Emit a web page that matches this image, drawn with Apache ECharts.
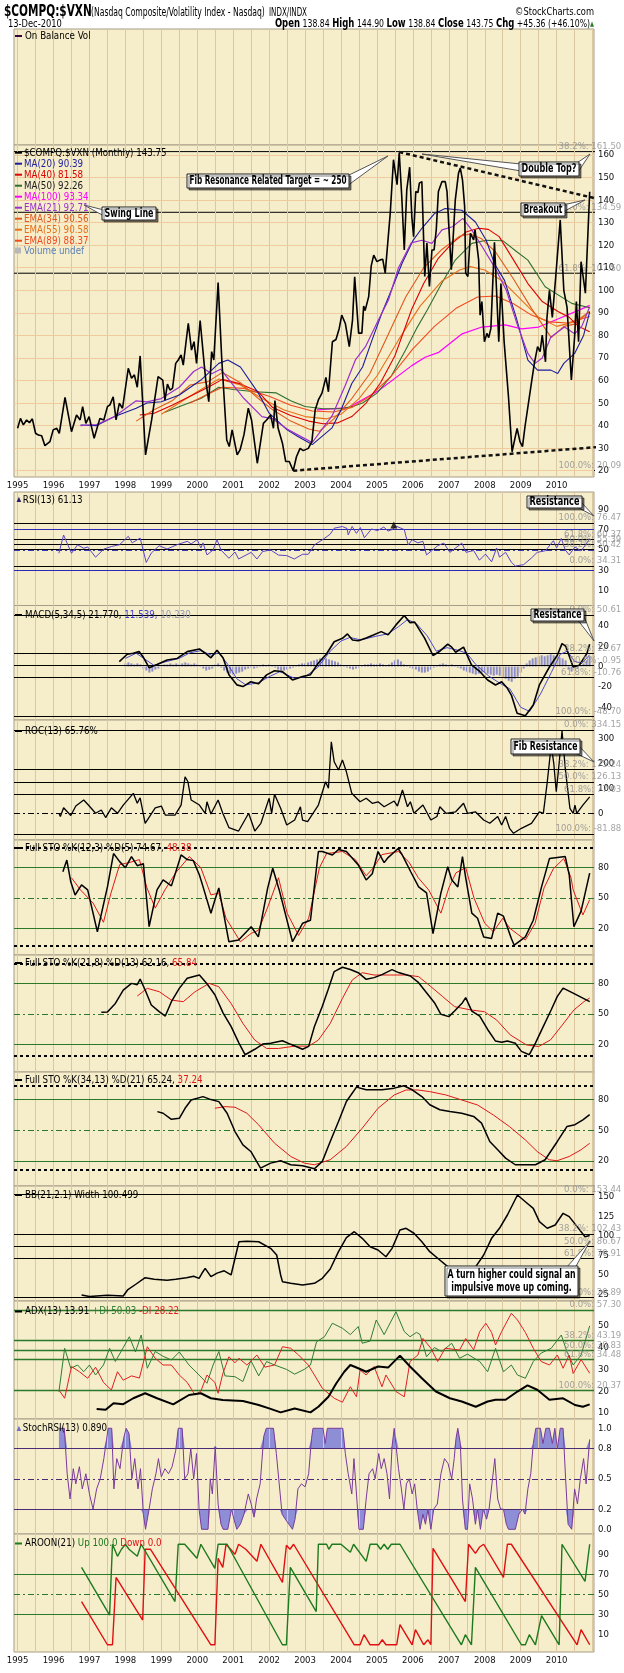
<!DOCTYPE html>
<html><head><meta charset="utf-8"><title>$COMPQ:$VXN</title>
<script src="https://cdn.jsdelivr.net/npm/echarts@6/dist/echarts.min.js"></script>
<style>html,body{margin:0;padding:0;background:#fff;}#chart{width:624px;height:1673px;}</style>
</head><body><div id="chart"></div>
<script>
// ================= DATA =================
const years = [1995,1996,1997,1998,1999,2000,2001,2002,2003,2004,2005,2006,2007,2008,2009,2010];
const mainTicks = [20,30,40,50,60,70,80,90,100,110,120,130,140,150,160];
const rsiTicks = [10,30,50,70,90];
const macdTicks = [-40,-20,0,20,40];
const rocTicks = [0,100,200,300];
const stoTicks = [20,50,80];
const bbTicks = [25,50,75,100,125,150];
const adxTicks = [10,20,30,40,50];
const srsiTicks = [0,0.2,0.5,0.8,1.0];
const aroonTicks = [10,30,50,70,90];

const price = [[1995.00,38.8],[1995.08,43.2],[1995.16,40.3],[1995.25,42.5],[1995.33,41.3],[1995.41,43],[1995.50,36.6],[1995.58,35.8],[1995.67,35.5],[1995.76,31.1],[1995.90,32.9],[1995.99,38.1],[1996.09,38.8],[1996.16,36.6],[1996.32,52.5],[1996.50,37.3],[1996.64,44.7],[1996.74,42.5],[1996.81,48.4],[1996.90,41],[1996.99,44],[1997.13,34.4],[1997.29,43.2],[1997.40,42.5],[1997.50,48.4],[1997.57,49.2],[1997.66,52.8],[1997.74,42.5],[1997.83,49.9],[1997.92,47.7],[1998.08,65.4],[1998.17,61],[1998.25,62.5],[1998.33,57],[1998.41,70.9],[1998.56,27],[1998.73,42.5],[1998.91,61.7],[1999.04,60.2],[1999.10,51.3],[1999.17,58.4],[1999.24,55.8],[1999.31,56.5],[1999.40,67.6],[1999.47,69.1],[1999.55,71.3],[1999.61,66.8],[1999.75,85.4],[1999.84,73.5],[1999.91,77.2],[1999.98,67.6],[2000.08,86.6],[2000.19,67.6],[2000.24,59.5],[2000.32,50.6],[2000.40,72.8],[2000.46,69.1],[2000.58,103.4],[2000.68,69.8],[2000.82,33.6],[2000.89,30.7],[2000.97,38.1],[2001.11,27],[2001.19,29.2],[2001.30,36],[2001.42,47.7],[2001.51,42.5],[2001.67,23.3],[2001.84,41],[2001.93,42.5],[2002.04,44.7],[2002.12,38.8],[2002.16,51.1],[2002.25,38.8],[2002.37,32.2],[2002.46,24.1],[2002.56,24.1],[2002.67,20],[2002.76,26.2],[2002.86,29.9],[2002.95,28.9],[2003.09,29.9],[2003.19,33],[2003.28,46.9],[2003.37,51.4],[2003.47,54.4],[2003.58,61.4],[2003.65,55],[2003.76,77.2],[2003.86,78.2],[2003.95,83.1],[2004.02,89],[2004.12,85.3],[2004.23,75],[2004.32,86.8],[2004.38,106],[2004.49,81],[2004.58,81],[2004.63,93],[2004.67,91],[2004.77,97.2],[2004.84,110.8],[2004.91,115.6],[2005.00,112.7],[2005.09,113.5],[2005.16,113.8],[2005.23,107.6],[2005.37,134.2],[2005.46,157.9],[2005.56,146.8],[2005.62,161.1],[2005.69,141.6],[2005.76,117.9],[2005.83,144.5],[2005.91,154.6],[2005.97,132.7],[2006.02,123.8],[2006.08,143.8],[2006.14,143.3],[2006.18,147.5],[2006.25,148.2],[2006.33,106.1],[2006.39,120.9],[2006.46,101.7],[2006.53,117.9],[2006.59,117.9],[2006.65,126.8],[2006.71,143.8],[2006.81,148.2],[2006.90,148.2],[2006.95,143.8],[2006.99,131.2],[2007.07,109.1],[2007.18,140.1],[2007.27,152],[2007.32,154.2],[2007.38,149],[2007.44,137.2],[2007.47,107.6],[2007.53,106.1],[2007.60,125.3],[2007.64,126.1],[2007.69,122.4],[2007.73,126.8],[2007.83,113.5],[2007.87,89],[2007.92,95],[2007.99,77.2],[2008.06,80.9],[2008.11,79],[2008.17,83],[2008.27,121.3],[2008.39,77.2],[2008.45,103],[2008.54,77],[2008.66,52.8],[2008.76,28.4],[2008.90,38.8],[2008.98,32.9],[2009.05,30.7],[2009.12,39.6],[2009.31,60.2],[2009.38,67.6],[2009.47,75],[2009.54,72.8],[2009.60,80.1],[2009.69,68.3],[2009.73,87.6],[2009.80,100],[2009.88,88],[2009.97,105],[2010.10,131.2],[2010.20,100],[2010.29,92.4],[2010.41,60.2],[2010.50,79.3],[2010.55,95],[2010.61,77.2],[2010.68,112.7],[2010.80,98.7],[2010.92,143.7]];

const ma20 = [[1996.75,40.3],[1997.2,40],[1997.7,44],[1998.3,47.7],[1998.6,50],[1999.0,50.6],[1999.5,53.6],[2000.1,60.2],[2000.6,67.6],[2000.85,69.1],[2001.2,66],[2001.7,54.4],[2002.0,45.5],[2002.5,38.1],[2002.8,35.2],[2003.2,31.6],[2003.75,39],[2004.0,46.9],[2004.3,58.7],[2004.6,66],[2004.86,77.8],[2005.13,89.6],[2005.4,100],[2005.7,112],[2006.0,122],[2006.25,127.5],[2006.6,134],[2006.9,136.3],[2007.36,135.5],[2007.74,130.3],[2008.04,122.2],[2008.27,111.8],[2008.55,104.4],[2008.87,88.2],[2009.2,69],[2009.47,64.6],[2009.84,64.6],[2010.03,63.1],[2010.2,67.6],[2010.5,72],[2010.75,80],[2010.92,90.4]];
const ma40 = [[1998.4,44.7],[1998.8,45.5],[1999.3,49],[1999.8,53],[2000.3,57],[2000.7,60.5],[2001.2,58.5],[2001.7,55],[2002.1,48],[2002.6,44.5],[2003.1,42],[2003.5,40.8],[2003.9,41.2],[2004.3,44],[2004.7,50],[2005.1,59],[2005.5,71],[2005.97,91.7],[2006.3,103],[2006.7,114],[2007.1,121],[2007.5,126],[2007.83,127.5],[2008.1,127],[2008.4,123.8],[2008.8,113.5],[2009.2,103],[2009.6,95],[2010.05,90.5],[2010.35,88],[2010.61,84],[2010.92,81.6]];
const ma50 = [[1999.1,45.9],[1999.6,49],[2000.1,52],[2000.6,57],[2001.0,56],[2001.6,55],[2002.2,54.5],[2002.6,51],[2003.0,48.5],[2003.5,47.5],[2004.0,47.5],[2004.3,48.4],[2004.6,50],[2005.0,54.4],[2005.4,62],[2005.8,73.6],[2006.1,83],[2006.4,91.3],[2006.8,103],[2007.18,113.4],[2007.64,120.8],[2008.04,122.2],[2008.5,122],[2008.9,117],[2009.2,113.4],[2009.68,101.6],[2010.42,94.2],[2010.92,92.3]];
const ma100 = [[2003.33,47],[2004.21,48],[2005.04,55.5],[2005.97,66.6],[2006.34,70.3],[2006.72,72.5],[2007.37,80.7],[2007.92,83.7],[2008.57,84.7],[2009.03,82.9],[2009.5,83.7],[2010.05,87.4],[2010.61,91.1],[2010.92,93.3]];
const ema21 = [[1996.75,40],[1997.2,40.5],[1997.7,44],[1998.3,51],[1998.6,50.5],[1999.0,52],[1999.5,57],[1999.9,64],[2000.12,66],[2000.4,63],[2000.65,65],[2000.95,59],[2001.3,52],[2001.8,44],[2002.1,43],[2002.5,38.5],[2002.9,35],[2003.2,32.5],[2003.5,39],[2003.75,44.3],[2004.12,57.9],[2004.4,69.1],[2004.68,75],[2005.04,86.8],[2005.32,95.7],[2005.6,110],[2005.95,121],[2006.25,122.2],[2006.53,120.8],[2006.81,126.8],[2007.1,128.2],[2007.39,131.9],[2007.64,126.7],[2007.93,119.3],[2008.27,110.4],[2008.6,100],[2008.9,85],[2009.2,72],[2009.4,67.6],[2009.6,70],[2009.84,79.3],[2010.22,83.7],[2010.5,80.7],[2010.7,84],[2010.92,92.7]];
const ema34 = [[1998.3,42],[1998.8,47],[1999.3,51],[1999.8,58],[2000.3,59.5],[2000.7,63.6],[2001.2,59],[2001.7,52],[2002.1,47],[2002.6,42],[2003.1,38.5],[2003.4,37.5],[2003.8,43],[2004.3,52],[2004.8,63],[2005.3,80],[2005.8,97],[2006.3,110],[2006.8,118],[2007.3,124],[2007.6,125],[2007.9,123],[2008.3,117],[2008.8,105],[2009.3,92],[2009.85,79],[2010.2,84],[2010.5,85],[2010.92,90.6]];
const ema55 = [[1999.0,45],[1999.5,50],[2000.0,55],[2000.6,60.7],[2001.2,58],[2001.8,52],[2002.4,47],[2003.0,44],[2003.6,43],[2004.0,45],[2004.5,52],[2005.0,62],[2005.6,78],[2006.2,93],[2006.8,104],[2007.3,109],[2007.6,110.5],[2008.0,109],[2008.5,104],[2009.0,96],[2009.5,88],[2010.0,84],[2010.5,86],[2010.92,90.6]];
const ema89 = [[1999.8,50],[2000.3,54],[2000.7,57],[2001.3,56.5],[2002.0,53],[2002.6,49],[2003.2,46.5],[2003.8,46],[2004.3,48],[2004.8,53],[2005.4,62],[2006.0,74],[2006.6,84],[2007.2,92],[2007.8,97],[2008.3,97.5],[2008.8,94],[2009.3,89],[2009.8,86],[2010.3,85.5],[2010.92,88.4]];
const topTrend = [[2005.62,161.3],[2011.87,137.8]];
const lowTrend = [[2002.67,20.0],[2011.87,31.4]];
const mainFib = [161.50,134.59,107.58,20.09];
const mainFibLabels = ['38.2%: 161.50','50.0%: 134.59','61.8%: 107.50','100.0%: 20.09'];

const rsi = [[1996.15,46.8],[1996.28,64.7],[1996.32,66.3],[1996.5,46.8],[1996.67,55],[1996.84,51.7],[1996.95,53],[1997.17,43],[1997.4,50.9],[1997.62,53.5],[1997.84,55.2],[1998.08,63.4],[1998.19,57],[1998.41,61.7],[1998.58,37.8],[1998.72,47],[1998.94,54.2],[1999.16,51],[1999.44,55.2],[1999.72,58.5],[1999.83,56],[2000.0,60.1],[2000.1,52],[2000.16,57],[2000.27,45.2],[2000.44,50],[2000.55,60.1],[2000.66,50],[2000.88,41.9],[2001.05,48],[2001.15,41.2],[2001.5,47.7],[2001.66,41.2],[2001.82,48.5],[2002.04,50.1],[2002.26,45],[2002.49,44.5],[2002.7,41.2],[2002.93,45.8],[2003.09,45.8],[2003.26,55],[2003.48,59.9],[2003.7,65.5],[2003.81,71.3],[2004.04,73],[2004.17,71],[2004.2,64.8],[2004.31,73],[2004.43,66.3],[2004.54,72],[2004.65,62],[2004.85,70.6],[2005.02,69],[2005.19,72.5],[2005.31,68.5],[2005.42,70],[2005.53,73.4],[2005.76,70],[2005.87,55],[2005.98,60],[2006.14,57],[2006.28,58.5],[2006.38,45.2],[2006.55,50],[2006.69,54.2],[2006.86,56.8],[2007.03,47.7],[2007.19,52],[2007.36,56.8],[2007.48,47.7],[2007.69,49.5],[2007.85,40],[2008.02,46],[2008.19,38.4],[2008.33,52],[2008.41,43],[2008.58,47.7],[2008.74,38],[2008.85,34.3],[2009.08,35.6],[2009.3,42.2],[2009.46,47.7],[2009.69,49.3],[2009.91,59.1],[2010.0,52],[2010.13,61.4],[2010.24,50],[2010.35,45.2],[2010.51,53],[2010.68,49],[2010.84,56.8],[2010.92,61.1]];
const rsiPeak = [[2005.47,74.5]];
const rsiFib = [76.47,60.37,55.39,50.42,34.31];
const rsiFibLabels = ['100.0%: 76.47','61.8%: 60.37','50.0%: 55.39','38.2%: 50.42','0.0%: 34.31'];

const macd = [[1997.83,4.7],[1998.05,12],[1998.22,13],[1998.38,14.6],[1998.5,9],[1998.66,-1.2],[1998.88,2],[1999.16,6.3],[1999.44,7.9],[1999.72,14.6],[2000.06,17.2],[2000.22,13],[2000.38,8.5],[2000.55,15.9],[2000.72,8.4],[2000.88,-8],[2001.1,-18],[2001.27,-19.7],[2001.49,-15],[2001.7,-17],[2001.93,-8.2],[2002.15,-4.2],[2002.37,-5],[2002.65,-13.2],[2002.93,-9.9],[2003.15,-8],[2003.37,3.5],[2003.59,12],[2003.81,24.3],[2004.04,27.6],[2004.18,31.9],[2004.32,26],[2004.48,25.3],[2004.7,28],[2004.9,30.9],[2005.12,34.2],[2005.31,31],[2005.53,40.8],[2005.76,50],[2005.92,43],[2006.05,43.5],[2006.33,27.6],[2006.56,10.8],[2006.75,15],[2006.97,22],[2007.08,19],[2007.19,14],[2007.41,19],[2007.63,1.6],[2007.86,-4.9],[2008.08,-13.2],[2008.3,-18.1],[2008.47,-15],[2008.63,-21.4],[2008.74,-28],[2008.9,-45.9],[2009.13,-48.2],[2009.35,-37.7],[2009.52,-18.1],[2009.8,-0.5],[2010.02,11],[2010.15,22.4],[2010.25,20],[2010.46,-0.5],[2010.63,1.2],[2010.84,12.6],[2010.92,21.8]];
const macdSignal = [[1998.0,8],[1998.3,13],[1998.55,7],[1998.8,1],[1999.1,4.5],[1999.5,8],[1999.8,13.5],[2000.1,15.5],[2000.4,11],[2000.6,13.5],[2000.85,2],[2001.1,-12],[2001.35,-18],[2001.7,-16],[2002.0,-10],[2002.3,-5],[2002.7,-11.5],[2003.0,-10],[2003.35,-1],[2003.7,15],[2004.0,25],[2004.25,28.5],[2004.55,26],[2004.95,29.5],[2005.3,32],[2005.6,39],[2005.85,46],[2006.1,42],[2006.4,30],[2006.65,15],[2006.95,18.5],[2007.25,16],[2007.5,13],[2007.75,2],[2008.1,-9],[2008.4,-16],[2008.7,-22],[2009.0,-40],[2009.25,-44],[2009.55,-27],[2009.85,-6],[2010.1,12],[2010.3,15],[2010.5,5],[2010.7,3],[2010.92,11.5]];
const macdHistStart = 1998.0;
const macdHist = [3,4,3,2,3,2,-2,-4,-6,-5,-3,-2,
 1,2,2,3,2,3,2,3,4,3,2,3,
 2,1,-2,-4,-3,-2,2,3,-1,-4,-6,-7,
 -8,-7,-6,-5,-3,-2,-1,-2,-1,1,2,1,
 2,1,-1,-3,-4,-4,-3,-2,-1,1,2,3,
 3,4,5,6,7,8,9,8,7,6,5,4,
 2,1,-1,-2,-3,-2,-1,1,2,2,3,2,
 2,3,2,1,2,4,6,7,5,2,1,-1,
 -2,-3,-5,-6,-6,-5,-3,-1,1,2,3,2,
 1,2,1,-1,-2,-4,-5,-6,-7,-8,-7,-6,
 -6,-7,-8,-9,-8,-9,-10,-12,-14,-15,-12,-10,
 -6,-2,3,6,8,9,10,11,10,11,12,11,
 10,9,8,6,-3,-5,-4,-2,1,3,6,10];
const macdFib = [50.61,12.67,0.95,-10.76,-48.70];
const macdFibLabels = ['0.0%: 50.61','38.2%: 12.67','50.0%: 0.95','61.8%: -10.76','100.0%: -48.70'];

const roc = [[1996.15,0],[1996.19,-13],[1996.28,22],[1996.48,-9],[1996.62,29],[1996.84,53],[1996.97,33],[1997.17,0],[1997.33,13],[1997.45,-17],[1997.61,22],[1997.78,0],[1997.94,33],[1998.22,80],[1998.33,40],[1998.41,62],[1998.55,-40],[1998.83,22],[1999.0,29],[1999.11,-7],[1999.38,-7],[1999.55,33],[1999.66,146],[1999.74,126],[1999.83,53],[2000.06,33],[2000.22,0],[2000.27,46],[2000.38,-3],[2000.58,53],[2000.71,0],[2000.88,-57],[2001.15,-71],[2001.43,0],[2001.6,-71],[2001.77,-40],[2002.0,60],[2002.07,0],[2002.15,76],[2002.32,20],[2002.49,-47],[2002.71,-27],[2002.87,26],[2002.93,-27],[2003.07,-33],[2003.37,33],[2003.57,126],[2003.65,100],[2003.73,286],[2003.81,206],[2003.93,173],[2004.04,213],[2004.15,166],[2004.3,80],[2004.53,46],[2004.7,60],[2004.87,40],[2005.03,46],[2005.2,26],[2005.48,49],[2005.57,29],[2005.71,93],[2005.85,26],[2005.93,46],[2006.03,0],[2006.28,33],[2006.5,-27],[2006.67,-13],[2006.75,26],[2006.92,0],[2007.19,6],[2007.41,40],[2007.52,0],[2007.74,6],[2007.97,-27],[2008.14,-40],[2008.36,-13],[2008.47,-47],[2008.58,-13],[2008.69,-60],[2008.8,-80],[2009.02,-60],[2009.3,-40],[2009.52,6],[2009.63,0],[2009.74,126],[2009.85,273],[2009.92,200],[2009.99,86],[2010.07,200],[2010.15,329],[2010.24,180],[2010.37,20],[2010.46,0],[2010.51,33],[2010.56,0],[2010.73,33],[2010.92,66]];
const rocFib = [334.15,175.24,126.13,77.03,-81.88];
const rocFibLabels = ['0.0%: 334.15','38.2%: 175.24','50.0%: 126.13','61.8%: 77.03','100.0%: -81.88'];

const sto1K = [[1996.26,76],[1996.37,87.6],[1996.48,66],[1996.6,53],[1996.78,63],[1996.95,58],[1997.22,16.6],[1997.5,61],[1997.67,94],[1997.84,86],[1998.0,80],[1998.17,91],[1998.33,82],[1998.5,84],[1998.66,21.6],[1998.88,58],[1999.05,68],[1999.28,62],[1999.55,92.6],[1999.72,88],[1999.89,87],[2000.06,72.8],[2000.17,60],[2000.38,35],[2000.49,48],[2000.6,60],[2000.88,6.7],[2001.15,8.4],[2001.5,21.6],[2001.7,11.5],[2001.96,60],[2002.1,79.4],[2002.28,58],[2002.65,6.7],[2002.93,25],[2003.15,28],[2003.37,96],[2003.48,96],[2003.76,92.6],[2003.93,98],[2004.15,96],[2004.48,82.7],[2004.7,67.8],[2004.87,74],[2005.03,96],[2005.2,85],[2005.31,90],[2005.59,99],[2005.7,93],[2005.94,76],[2006.16,61],[2006.38,55],[2006.56,14.8],[2006.78,55],[2006.97,81],[2007.08,68],[2007.25,61],[2007.38,91],[2007.47,70],[2007.64,35],[2007.8,30],[2007.97,11.5],[2008.19,10],[2008.36,35],[2008.52,32],[2008.74,10],[2008.82,3.3],[2009.13,11.5],[2009.35,28],[2009.58,61],[2009.8,89],[2010.02,90],[2010.24,91],[2010.35,73],[2010.48,21.6],[2010.68,37],[2010.92,74.7]];
const sto1D = [[1996.5,70],[1996.75,58],[1997.1,45],[1997.39,26],[1997.6,55],[1997.84,83],[1998.1,85],[1998.39,88],[1998.6,60],[1998.83,40],[1999.1,58],[1999.4,75],[1999.78,91],[2000.1,80],[2000.38,53],[2000.6,55],[2000.8,30],[2001.2,6.7],[2001.5,15],[2001.7,18],[2001.95,40],[2002.26,70],[2002.5,35],[2002.82,13],[2003.1,30],[2003.4,80],[2003.6,94],[2004.04,96],[2004.4,88],[2004.7,72],[2004.9,80],[2005.14,93],[2005.6,96],[2005.9,85],[2006.15,70],[2006.44,58],[2006.78,35],[2007.0,60],[2007.2,75],[2007.47,80],[2007.7,50],[2008.0,25],[2008.24,16.6],[2008.5,30],[2008.7,20],[2009.13,8.4],[2009.4,25],[2009.65,60],[2009.91,79],[2010.2,89],[2010.4,70],[2010.46,58],[2010.73,33.2],[2010.92,48.4]];
const sto1Dots = [100,2.8];
const sto2K = [[1997.33,51.7],[1997.5,52],[1997.72,60.5],[1997.94,73.7],[1998.17,80.3],[1998.33,79],[1998.41,84.6],[1998.55,73.7],[1998.72,58.9],[1998.94,52.3],[1999.11,48],[1999.28,62.2],[1999.5,75.4],[1999.72,85.3],[2000.06,88.6],[2000.27,80],[2000.49,69.1],[2000.72,50.9],[2000.94,37.7],[2001.16,21.2],[2001.33,9.7],[2001.6,15.1],[2001.82,20.2],[2002.04,21],[2002.37,23.5],[2002.6,20],[2002.93,15.1],[2003.1,18],[2003.26,37.7],[2003.48,57.6],[2003.64,74.1],[2003.81,92],[2004.04,96.3],[2004.26,94],[2004.48,90.9],[2004.7,84.3],[2004.92,86],[2005.14,89],[2005.42,93.9],[2005.6,91],[2005.93,87.6],[2006.16,81],[2006.38,71.1],[2006.6,61.2],[2006.78,49.7],[2007.0,47.4],[2007.16,53],[2007.38,61.2],[2007.47,66.2],[2007.64,52.9],[2007.86,47.8],[2008.08,34.7],[2008.3,23.2],[2008.47,22],[2008.63,23.2],[2008.85,21],[2009.02,13],[2009.24,9.7],[2009.41,21.2],[2009.63,37.7],[2009.85,54.2],[2010.02,67.4],[2010.18,75.6],[2010.46,70.7],[2010.73,65.7],[2010.92,62.2]];
const sto2D = [[1998.33,67.8],[1998.61,75.4],[1998.94,72.1],[1999.28,63.8],[1999.61,62.2],[1999.94,72.1],[2000.33,80.3],[2000.6,77],[2000.94,60.5],[2001.27,40.7],[2001.6,24.2],[2001.93,15.9],[2002.26,15.9],[2002.71,18.2],[2003.1,18.2],[2003.37,24.2],[2003.7,40.7],[2004.04,65.5],[2004.31,83.6],[2004.59,90.9],[2004.92,88.6],[2005.37,88.6],[2005.81,88.6],[2006.16,87],[2006.5,77.1],[2006.83,67.2],[2007.16,57.3],[2007.61,54],[2007.99,52.3],[2008.33,44.1],[2008.71,29.3],[2009.16,19.4],[2009.5,17.8],[2009.83,24.4],[2010.16,39.2],[2010.48,54],[2010.76,62.2],[2010.92,65.8]];
const sto2Dots = [100.2,8.7];
const sto3K = [[1998.89,68.2],[1999.05,66.6],[1999.28,60.7],[1999.5,61.7],[1999.66,71.5],[1999.83,79.6],[2000.16,82.9],[2000.38,80],[2000.6,78],[2000.83,66.6],[2001.05,48.7],[2001.27,35.7],[2001.49,29.2],[2001.76,12.9],[2002.04,17.8],[2002.32,20.1],[2002.6,16.2],[2002.93,15.2],[2003.26,12.3],[2003.48,19.5],[2003.7,39],[2003.93,58.6],[2004.15,78.1],[2004.43,92.2],[2004.7,89.6],[2005.14,89.6],[2005.48,91.2],[2005.75,93.5],[2005.98,89.6],[2006.25,83],[2006.47,74.9],[2006.75,70],[2007.03,68.4],[2007.36,66.7],[2007.69,63.5],[2007.91,57],[2008.14,39],[2008.36,30.9],[2008.58,22.7],[2008.85,16.2],[2009.13,16.2],[2009.41,16.2],[2009.68,21.1],[2010.02,39],[2010.29,53.7],[2010.51,55.4],[2010.73,60.2],[2010.92,65.2]];
const sto3D = [[2000.49,71.5],[2000.77,73.1],[2001.05,72.5],[2001.38,66.6],[2001.71,55.2],[2002.15,37.3],[2002.6,24.3],[2002.98,17.8],[2003.26,16.2],[2003.7,21.1],[2004.15,34.1],[2004.59,52],[2005.03,71.5],[2005.48,84.5],[2005.81,89.4],[2006.14,89.4],[2006.47,87.8],[2006.92,84.5],[2007.36,79.6],[2007.8,74.7],[2008.24,64.9],[2008.69,53.5],[2009.13,40.5],[2009.46,29.1],[2009.79,21.1],[2010.01,20.1],[2010.35,24.3],[2010.68,30.9],[2010.92,37.2]];
const sto3Dots = [94,11.2];

const bbWidth = [[1996.78,23.8],[1997.0,22],[1997.5,23.4],[1997.94,22.5],[1998.06,30.3],[1998.3,38],[1998.55,46.1],[1998.8,44],[1999.16,42.9],[1999.4,44],[1999.7,46],[1999.9,48],[2000.05,45.3],[2000.13,51.8],[2000.22,58.2],[2000.38,47.4],[2000.55,52],[2000.75,55],[2000.94,49.6],[2001.16,92.4],[2001.38,93],[2001.71,92.4],[2002.04,83.9],[2002.21,75.3],[2002.32,49.6],[2002.37,41],[2002.6,38.9],[2002.93,36.7],[2003.26,38.9],[2003.48,45.3],[2003.7,57.3],[2003.93,79.6],[2004.15,97.6],[2004.37,105.3],[2004.59,96.8],[2004.81,86],[2005.03,81.8],[2005.25,73.1],[2005.42,83.9],[2005.64,107.5],[2005.81,109.7],[2006.03,103.3],[2006.25,92.4],[2006.47,79.6],[2006.69,71.1],[2006.97,60.3],[2007.25,58.2],[2007.52,58.2],[2007.75,60.3],[2007.97,75.3],[2008.19,96.8],[2008.41,109.7],[2008.63,126.8],[2008.91,152.5],[2009.13,143.9],[2009.35,135.4],[2009.52,118.2],[2009.74,109.7],[2009.96,113.9],[2010.18,129],[2010.35,124.7],[2010.57,111.8],[2010.79,98.9],[2010.92,100.5]];
const bbFib = [153.44,102.43,86.67,70.91,20.89];
const bbFibLabels = ['0.0%: 153.44','38.2%: 102.43','50.0%: 86.67','61.8%: 70.91','100.0%: 20.89'];

const adx = [[1997.2,11.8],[1997.45,11.4],[1997.67,14.4],[1997.94,14],[1998.22,16.7],[1998.55,19],[1998.88,16.7],[1999.33,13.9],[1999.77,18.2],[2000.1,19],[2000.38,16.7],[2000.71,15.9],[2001.27,15.4],[2001.71,13.6],[2002.04,11.8],[2002.32,10.2],[2002.71,12],[2003.15,10.2],[2003.37,12.8],[2003.65,17.4],[2003.87,23.6],[2004.09,28.9],[2004.26,32],[2004.48,30.5],[2004.7,28.9],[2005.03,31.3],[2005.31,30.8],[2005.64,36.3],[2005.92,31.3],[2006.25,25.9],[2006.64,19.8],[2007.03,16.7],[2007.36,15.2],[2007.75,12.8],[2008.08,15.2],[2008.3,16],[2008.58,16],[2008.91,19.8],[2009.19,22.6],[2009.46,20.6],[2009.8,16],[2010.18,16.7],[2010.51,13.6],[2010.73,12.8],[2010.92,13.9]];
const plusDI = [[1996.15,19.7],[1996.31,39.7],[1996.48,30.5],[1996.67,32],[1996.84,28.9],[1997.0,32],[1997.17,27.4],[1997.39,32],[1997.56,39.7],[1997.72,33.6],[1997.94,40],[1998.11,45],[1998.28,38],[1998.44,45.8],[1998.61,30.5],[1998.83,38.2],[1999.05,36],[1999.28,34.3],[1999.5,38],[1999.77,32],[2000.05,27.4],[2000.27,23.6],[2000.44,32],[2000.6,38.2],[2000.77,27],[2001.05,26.6],[2001.27,24.4],[2001.49,34],[2001.71,27],[2001.93,33.6],[2002.15,32],[2002.48,30],[2002.71,27.8],[2002.98,30],[2003.15,32],[2003.32,42.7],[2003.54,45],[2003.76,51.2],[2004.04,48.9],[2004.26,46],[2004.48,49.7],[2004.59,42],[2004.81,43],[2004.98,52.7],[2005.2,46],[2005.53,56.5],[2005.76,47.4],[2005.92,45],[2006.1,47],[2006.2,46],[2006.38,35.8],[2006.6,40],[2006.8,38.2],[2007.08,42],[2007.3,35.1],[2007.52,37],[2007.86,33.6],[2008.08,28.9],[2008.3,39.7],[2008.52,28.9],[2008.74,32],[2008.91,27.4],[2009.13,25.9],[2009.35,33.6],[2009.57,37.5],[2009.85,39.7],[2010.13,45.8],[2010.29,38],[2010.46,32],[2010.68,36.6],[2010.92,50]];
const minusDI = [[1996.15,20.5],[1996.31,16.7],[1996.5,31.3],[1996.72,28.9],[1996.95,25.9],[1997.17,31],[1997.39,24],[1997.61,20.5],[1997.78,28.9],[1997.94,25],[1998.17,27],[1998.39,26],[1998.61,40.4],[1998.83,35.1],[1999.05,32],[1999.28,32],[1999.5,27.4],[1999.72,24],[1999.94,18.2],[2000.1,20],[2000.27,27.4],[2000.49,24],[2000.58,19],[2000.71,28],[2000.88,35.8],[2001.05,33],[2001.16,35.1],[2001.38,32],[2001.66,36.6],[2001.88,31],[2002.15,32],[2002.37,40.4],[2002.6,39.7],[2002.82,36.6],[2003.09,32],[2003.26,27.4],[2003.48,21.3],[2003.81,16.7],[2004.04,14.9],[2004.26,22],[2004.43,17.4],[2004.53,29.7],[2004.7,27.4],[2004.92,31.3],[2005.14,22],[2005.25,27.4],[2005.53,19.8],[2005.76,17.4],[2005.92,33.6],[2006.14,36.6],[2006.28,44.2],[2006.5,39.7],[2006.69,33.6],[2006.9,39.7],[2007.3,38.9],[2007.47,44.2],[2007.69,39],[2007.86,47.4],[2008.03,51.2],[2008.19,47],[2008.3,41.2],[2008.47,47.4],[2008.74,55.8],[2008.91,52.7],[2009.13,47],[2009.35,39.7],[2009.57,33.6],[2009.8,32],[2010.02,36.6],[2010.18,30.5],[2010.35,36.6],[2010.46,28.1],[2010.68,34.5],[2010.92,28.2]];
const adxFib = [57.30,43.19,38.83,34.48,20.37];
const adxFibLabels = ['0.0%: 57.30','38.2%: 43.19','50.0%: 38.83','61.8%: 34.48','100.0%: 20.37'];

const stochRsi = [[1996.15,1.0],[1996.3,1.0],[1996.38,0.55],[1996.46,0.3],[1996.55,0.6],[1996.62,0.45],[1996.72,0.62],[1996.8,0.4],[1996.9,0.55],[1997.0,0.35],[1997.1,0.2],[1997.2,0.4],[1997.3,0.5],[1997.4,0.7],[1997.48,0.9],[1997.52,1.0],[1997.62,1.0],[1997.68,0.4],[1997.76,0.7],[1997.85,0.6],[1997.95,0.9],[1998.02,1.0],[1998.1,0.95],[1998.18,0.5],[1998.26,0.7],[1998.35,0.4],[1998.42,0.6],[1998.5,0.15],[1998.56,0.0],[1998.66,0.2],[1998.75,0.4],[1998.85,0.55],[1998.92,0.7],[1999.0,0.52],[1999.1,0.6],[1999.2,0.55],[1999.3,0.62],[1999.4,0.78],[1999.47,1.0],[1999.58,1.0],[1999.65,0.5],[1999.74,0.55],[1999.82,0.8],[1999.9,0.5],[1999.98,0.75],[2000.05,0.2],[2000.12,0.0],[2000.3,0.0],[2000.36,0.5],[2000.42,0.35],[2000.5,0.82],[2000.58,0.25],[2000.66,0.05],[2000.72,0.0],[2000.85,0.0],[2000.95,0.2],[2001.02,0.1],[2001.1,0.0],[2001.2,0.05],[2001.3,0.15],[2001.42,0.35],[2001.5,0.25],[2001.58,0.12],[2001.65,0.3],[2001.75,0.45],[2001.85,0.92],[2001.92,1.0],[2002.12,1.0],[2002.2,0.75],[2002.28,0.45],[2002.36,0.15],[2002.45,0.1],[2002.55,0.05],[2002.65,0.0],[2002.72,0.1],[2002.8,0.4],[2002.9,0.45],[2003.0,0.42],[2003.1,0.55],[2003.18,0.9],[2003.22,1.0],[2003.5,1.0],[2003.56,0.85],[2003.62,1.0],[2004.05,1.0],[2004.12,0.75],[2004.2,0.55],[2004.3,0.35],[2004.36,0.7],[2004.44,0.3],[2004.5,0.0],[2004.62,0.0],[2004.7,0.3],[2004.78,0.55],[2004.88,0.6],[2004.95,0.5],[2005.05,0.75],[2005.12,0.6],[2005.2,0.7],[2005.28,0.55],[2005.35,0.3],[2005.42,0.82],[2005.48,1.0],[2005.53,1.0],[2005.6,0.6],[2005.68,0.4],[2005.75,0.2],[2005.82,0.45],[2005.9,0.5],[2005.98,0.35],[2006.05,0.45],[2006.12,0.2],[2006.2,0.0],[2006.28,0.15],[2006.35,0.05],[2006.42,0.2],[2006.5,0.0],[2006.58,0.2],[2006.68,0.25],[2006.78,0.55],[2006.88,0.7],[2006.98,0.65],[2007.08,0.5],[2007.15,0.7],[2007.2,0.9],[2007.25,1.0],[2007.32,0.85],[2007.38,0.3],[2007.46,0.0],[2007.52,0.0],[2007.58,0.45],[2007.66,0.3],[2007.74,0.05],[2007.8,0.2],[2007.88,0.0],[2007.96,0.2],[2008.05,0.1],[2008.12,0.2],[2008.2,0.45],[2008.28,0.7],[2008.36,0.3],[2008.44,0.2],[2008.52,0.2],[2008.6,0.05],[2008.66,0.0],[2008.85,0.0],[2008.95,0.15],[2009.05,0.2],[2009.12,0.15],[2009.2,0.4],[2009.28,0.55],[2009.35,0.85],[2009.42,1.0],[2009.55,1.0],[2009.62,0.85],[2009.7,1.0],[2009.8,1.0],[2009.88,0.85],[2009.95,1.0],[2010.02,0.8],[2010.1,1.0],[2010.18,1.0],[2010.25,0.5],[2010.32,0.05],[2010.42,0.0],[2010.5,0.4],[2010.58,0.25],[2010.66,0.5],[2010.75,0.7],[2010.82,0.45],[2010.92,0.89]];

const aroonUp = [[1996.78,77],[1997.56,29.5],[1997.64,100],[1997.78,88],[1997.89,95],[1998.0,100],[1998.1,95],[1998.33,88],[1998.44,100],[1999.38,43],[1999.47,100],[1999.65,100],[1999.99,86],[2000.1,100],[2000.49,76],[2000.58,100],[2000.83,100],[2002.37,0],[2002.48,0],[2002.59,77],[2003.31,33],[2003.37,100],[2003.6,100],[2003.66,95],[2003.75,100],[2004.0,100],[2004.26,92],[2004.35,100],[2004.7,83],[2004.81,100],[2005.0,100],[2005.1,95],[2005.2,100],[2005.3,95],[2005.4,100],[2005.64,100],[2007.35,0],[2007.46,10],[2007.63,0],[2007.74,77],[2009.02,0],[2009.13,0],[2009.24,10],[2009.41,0],[2009.58,29],[2010.07,0],[2010.15,100],[2010.79,63],[2010.92,100]];
const aroonDown = [[1996.78,43],[1997.5,0],[1997.64,0],[1997.74,67],[1998.48,24.6],[1998.55,95],[1998.7,95],[2000.38,0],[2000.49,0],[2000.58,86],[2000.71,77],[2000.8,100],[2001.05,90],[2001.15,100],[2001.35,95],[2001.66,83],[2001.77,100],[2002.37,62],[2002.48,99],[2002.58,95],[2002.68,100],[2004.37,0],[2004.53,0],[2004.64,10],[2004.81,0],[2005.05,0],[2005.15,5],[2005.25,0],[2005.55,0],[2005.64,20],[2005.98,0],[2006.07,15],[2006.3,0],[2006.42,5],[2006.5,0],[2006.56,96],[2007.46,43],[2007.55,100],[2007.74,91],[2007.85,97],[2007.97,100],[2008.52,67],[2008.63,100],[2008.74,100],[2010.57,0],[2010.68,15],[2010.92,0]];

// ================= LAYOUT / STYLE =================
const FONT = '"Liberation Sans Narrow","DejaVu Sans Condensed","Liberation Sans",Arial,sans-serif';
const X0 = 1994.9, X1 = 2011.04, XE = 2011.87, XL = 2011.84;
const BG = '#F6EDCB', VGRID = '#DCC8A0', HGRID = '#EFCB9D';
const GREEN = '#2a7a2a', PURP = '#4b2a78';
const PANELS = [
 {top:29, h:116, min:0, max:1, ticks:null},
 {top:145, h:332, min:17.21, max:164.43, ticks:mainTicks},
 {top:492, h:113.5, min:-4.36, max:106.8, ticks:rsiTicks},
 {top:605.5, h:114.5, min:-52.45, max:59.8, ticks:macdTicks},
 {top:720, h:120, min:-106.8, max:373.2, ticks:rocTicks},
 {top:840, h:115, min:-6.4, max:107.4, ticks:stoTicks},
 {top:955, h:117, min:-7.4, max:108.4, ticks:stoTicks},
 {top:1072, h:114, min:-4.6, max:107, ticks:stoTicks},
 {top:1186, h:115, min:16.12, max:164.12, ticks:bbTicks},
 {top:1301, h:118, min:7.16, max:61.44, ticks:adxTicks},
 {top:1419, h:115, min:-0.0465, max:1.092, ticks:srsiTicks},
 {top:1534, h:118, min:-7.2, max:110.2, ticks:aroonTicks}
];
const HALF = [];
for (let y = 1995; y <= 2011; y += 0.5) HALF.push(y);

const grids = [], xAxes = [], yAxes = [], S = [], G = [];
PANELS.forEach((p, i) => {
  grids.push({left:14, top:p.top, width:580, height:p.h, show:true, backgroundColor:BG, borderColor:'#a69d86', borderWidth:1});
  xAxes.push({gridIndex:i, type:'value', min:X0, max:X1, axisLine:{show:false}, axisTick:{show:false}, splitLine:{show:false},
    axisLabel:{show:(i===1||i===11), customValues:years, formatter:v=>String(Math.round(v)), margin:4, fontSize:9.5, fontFamily:FONT, color:'#111'}});
  yAxes.push({gridIndex:i, type:'value', position:'right', min:p.min, max:p.max, axisLine:{show:false}, axisTick:{show:false}, splitLine:{show:false},
    axisLabel:{show:!!p.ticks, customValues:p.ticks||[], formatter:(i===10? (v=>v.toFixed(1)) : (v=>String(v))), margin:4, fontSize:9.5, fontFamily:FONT, color:'#111'}});
});

function L(gi, data, color, width, extra) {
  S.push(Object.assign({type:'line', xAxisIndex:gi, yAxisIndex:gi, data:data, symbol:'none', silent:true, animation:false,
    lineStyle:{color:color, width:width}, z:5}, extra||{}));
}
function ML(gi, items, style, z) {
  S.push({type:'line', xAxisIndex:gi, yAxisIndex:gi, data:[], symbol:'none', silent:true, animation:false, z:z||2,
    markLine:{silent:true, animation:false, symbol:['none','none'], label:{show:false}, lineStyle:style, data:items}});
}
function HL(gi, vals, style, z) { ML(gi, vals.map(v=>({yAxis:v})), style, z); }
function FL(gi, vals, labels) {
  S.push({type:'scatter', xAxisIndex:gi, yAxisIndex:gi, clip:false, silent:true, animation:false, symbolSize:1, z:6,
    itemStyle:{color:'rgba(0,0,0,0)'},
    data: vals.map((v,k)=>({value:[XL, v], label:{show:true, formatter:labels[k]}})),
    label:{show:true, position:'left', distance:1, offset:[0,-5], color:'#8c8c8c', fontSize:9.5, fontFamily:FONT}});
}
const DASHDOT = [6,3,2,3];

PANELS.forEach((p,i) => ML(i, HALF.map(x=>({xAxis:x})), {color:VGRID, width:1, type:'solid'}, 1));
HL(1, mainTicks, {color:HGRID, width:1, type:'solid'}, 1);

// ---- main panel ----
mainFib.forEach(v => L(1, [[X0,v],[XE,v]], '#000', 1, {clip:false, z:3}));
FL(1, mainFib, mainFibLabels);
L(1, ma100, '#ff00ff', 1.2);
L(1, ma50, '#2f6f2f', 1.1);
L(1, ema89, '#f04a1e', 1.1);
L(1, ema55, '#e8701a', 1.1);
L(1, ma40, '#dd0000', 1.1);
L(1, ema34, '#e0581c', 1.1);
L(1, ma20, '#1c1c9c', 1.1);
L(1, ema21, '#9932cc', 1.2);
L(1, price, '#000', 1.6, {z:7});
L(1, topTrend, '#111', 2.5, {clip:false, z:8, lineStyle:{color:'#111', width:2.5, type:[4,3]}});
L(1, lowTrend, '#111', 2.5, {clip:false, z:8, lineStyle:{color:'#111', width:2.5, type:[4,3]}});

// ---- RSI ----
HL(2, rsiFib, {color:'#000', width:1, type:'solid'}, 3);
HL(2, [70,30], {color:'#2a2ab4', width:1, type:'solid'}, 3);
HL(2, [50], {color:'#3a3ab0', width:1, type:DASHDOT}, 3);
FL(2, rsiFib, rsiFibLabels);
L(2, rsi, '#5a44c4', 1);
S.push({type:'scatter', xAxisIndex:2, yAxisIndex:2, data:rsiPeak, symbol:'triangle', symbolSize:7, itemStyle:{color:'#000'}, silent:true, animation:false, z:8});

// ---- MACD ----
HL(3, macdFib, {color:'#000', width:1, type:'solid'}, 3);
FL(3, macdFib, macdFibLabels);
S.push({type:'bar', xAxisIndex:3, yAxisIndex:3, barWidth:2, silent:true, animation:false, z:4,
  itemStyle:{color:'#8d8dc8'}, data: macdHist.map((v,k)=>[macdHistStart + k/12, v])});
L(3, macdSignal, '#4a4ad0', 1);
L(3, macd, '#000', 1.6, {z:6});

// ---- ROC ----
HL(4, rocFib, {color:'#000', width:1, type:'solid'}, 3);
HL(4, [0], {color:'#000', width:1, type:DASHDOT}, 3);
FL(4, rocFib, rocFibLabels);
L(4, roc, '#000', 1.3);

// ---- Stochastics ----
[[5,sto1K,sto1D,sto1Dots],[6,sto2K,sto2D,sto2Dots],[7,sto3K,sto3D,sto3Dots]].forEach(a => {
  const gi = a[0];
  HL(gi, [80,20], {color:GREEN, width:1, type:'solid'}, 3);
  HL(gi, [50], {color:GREEN, width:1, type:DASHDOT}, 3);
  HL(gi, a[3], {color:'#000', width:2, type:[3,3]}, 3);
  L(gi, a[2], '#e01818', 1);
  L(gi, a[1], '#000', 1.5, {z:6});
});

// ---- BB width ----
HL(8, bbFib, {color:'#000', width:1, type:'solid'}, 3);
FL(8, bbFib, bbFibLabels);
L(8, bbWidth, '#000', 1.5);

// ---- ADX ----
HL(9, adxFib, {color:GREEN, width:1.3, type:'solid'}, 3);
FL(9, adxFib, adxFibLabels);
L(9, plusDI, '#2e7d32', 1);
L(9, minusDI, '#e02020', 1);
L(9, adx, '#000', 2, {z:6});

// ---- StochRSI ----
L(10, stochRsi.map(p=>[p[0], Math.max(p[1],0.8)]), 'rgba(0,0,0,0)', 0, {z:3, areaStyle:{origin:0.8, color:'#8e8ed6', opacity:1}});
L(10, stochRsi.map(p=>[p[0], Math.min(p[1],0.2)]), 'rgba(0,0,0,0)', 0, {z:3, areaStyle:{origin:0.2, color:'#8e8ed6', opacity:1}});
HL(10, [0.8,0.2], {color:PURP, width:1, type:'solid'}, 4);
HL(10, [0.5], {color:PURP, width:1, type:DASHDOT}, 4);
L(10, stochRsi, '#7a3a9a', 1, {z:6});

// ---- Aroon ----
HL(11, [70,30], {color:GREEN, width:1, type:'solid'}, 3);
HL(11, [50], {color:GREEN, width:1, type:DASHDOT}, 3);
L(11, aroonDown, '#e01010', 1.4);
L(11, aroonUp, '#1e7a1e', 1.4);

// ================= TEXT / ANNOTATIONS =================
const mctx = document.createElement('canvas').getContext('2d');
function tw(text, size, bold) { mctx.font = (bold ? 'bold ' : '') + size + 'px ' + FONT; return mctx.measureText(text).width; }
function T(x, y, text, opt, sx) {
  G.push({type:'text', z:110, silent:true, x:x, y:y, scaleX:(sx||0.88),
    style:Object.assign({x:0, y:0, text:text, fill:'#000', fontSize:11, fontFamily:FONT, align:'left', verticalAlign:'middle'}, opt||{})});
}
function dash(x, y, color) { G.push({type:'rect', z:110, silent:true, shape:{x:x, y:y-1, width:7, height:2}, style:{fill:color}}); }
function box(x, y, w, h, text, wedges) {
  (wedges||[]).forEach(pts => G.push({type:'polygon', z:104, silent:true, shape:{points:pts}, style:{fill:'#fff', stroke:'#555', lineWidth:1}}));
  G.push({type:'rect', z:105, silent:true, shape:{x:x, y:y, width:w, height:h}, style:{fill:'#fff', stroke:'#222', lineWidth:1, shadowColor:'rgba(0,0,0,0.5)', shadowOffsetX:2, shadowOffsetY:2, shadowBlur:0}});
  const lines = text.split('\n');
  const wmax = Math.max.apply(null, lines.map(l => tw(l, 11.5, true)));
  const sx = Math.min(1, (w - 5) / wmax);
  G.push({type:'text', z:106, silent:true, x:x + w/2, y:y + h/2 + 0.5, scaleX:sx,
    style:{x:0, y:0, text:text, align:'center', verticalAlign:'middle', fontSize:11.5, fontWeight:'bold', fontFamily:FONT, fill:'#000', lineHeight:13.5}});
}

// header
T(4, 12, '$COMPQ:$VXN', {fontSize:15, fontWeight:'bold'}, 0.78);
T(91, 13, '(Nasdaq Composite/Volatility Index - Nasdaq)', {fontSize:12}, 0.71);
T(269, 13, 'INDX/INDX', {fontSize:12}, 0.66);
T(594, 12, '©StockCharts.com', {fontSize:11, align:'right'}, 0.84);
T(8, 24, '13-Dec-2010', {fontSize:11}, 0.84);
T(594, 24, '{b|Open} {n|138.84} {b|High} {n|144.90} {b|Low} {n|138.84} {b|Close} {n|143.75} {b|Chg} {n|+45.36 (+46.10%)}{g|▲}', {align:'right', rich:{
  b:{fontSize:11.5, fontWeight:'bold', fontFamily:FONT, fill:'#000'},
  n:{fontSize:10.5, fontFamily:FONT, fill:'#000'},
  g:{fontSize:7, fontFamily:FONT, fill:'#2a7a2a'}}}, 0.82);

// panel legends
dash(15, 36, '#3a0040'); T(25, 36, 'On Balance Vol');
const mainLegend = [
  ['$COMPQ:$VXN (Monthly) 143.75', '#000', '#000'],
  ['MA(20) 90.39', '#1c1c9c', '#1c1c9c'],
  ['MA(40) 81.58', '#dd0000', '#dd0000'],
  ['MA(50) 92.26', '#1a1a1a', '#2f6f2f'],
  ['MA(100) 93.34', '#ff00ff', '#ff00ff'],
  ['EMA(21) 92.71', '#9932cc', '#9932cc'],
  ['EMA(34) 90.56', '#e0581c', '#e0581c'],
  ['EMA(55) 90.58', '#e8701a', '#e8701a'],
  ['EMA(89) 88.37', '#f04a1e', '#f04a1e']
];
mainLegend.forEach((e,k) => { const y = 152.7 + k*11; dash(15, y, e[2]); T(24, y, e[0], {fill:e[1]}); });
G.push({type:'rect', z:110, silent:true, shape:{x:15, y:247.5, width:6, height:6}, style:{fill:'#b8b8b8'}});
T(24, 251, 'Volume undef', {fill:'#5a7fb5'});

const RT = c => ({fontSize:11, fontFamily:FONT, fill:c});
T(15, 500, '{i|▲}{t|RSI(13) 61.13}', {rich:{i:{fontSize:9, fill:'#2a1a6a'}, t:RT('#000')}});
dash(15, 615, '#000'); T(25, 615, '{t|MACD(5,34,5) 21.770,} {b|11.539,} {g|10.230}', {rich:{t:RT('#000'), b:RT('#3a3ad0'), g:RT('#9a9ab0')}});
dash(15, 731, '#000'); T(25, 731, 'ROC(13) 65.76%');
dash(15, 848, '#000'); T(25, 848, '{t|Full STO %K(12,3) %D(5) 74.67,} {r|48.38}', {rich:{t:RT('#000'), r:RT('#e01818')}});
dash(15, 963, '#000'); T(25, 963, '{t|Full STO %K(21,8) %D(13) 62.16,} {r|65.84}', {rich:{t:RT('#000'), r:RT('#e01818')}});
dash(15, 1080, '#000'); T(25, 1080, '{t|Full STO %K(34,13) %D(21) 65.24,} {r|37.24}', {rich:{t:RT('#000'), r:RT('#e01818')}});
dash(15, 1195, '#000'); T(25, 1195, 'BB(21,2.1) Width 100.499');
dash(15, 1311.5, '#000'); T(25, 1311.5, '{t|ADX(13) 13.91} {g|+DI 50.03} {r|-DI 28.22}', {rich:{t:RT('#000'), g:RT('#2e7d32'), r:RT('#e02020')}});
T(15, 1428.5, '{i|▲}{t|StochRSI(13) 0.890}', {rich:{i:{fontSize:9, fill:'#7070c8'}, t:RT('#000')}});
dash(15, 1543.5, '#1e7a1e'); T(25, 1543.5, '{t|AROON(21)} {g|Up 100.0} {r|Down 0.0}', {rich:{t:RT('#000'), g:RT('#1e7a1e'), r:RT('#e01010')}});

// annotation call-outs
box(187, 174, 162, 14, 'Fib Resonance Related Target = ~ 250', [[[347,176],[347,186],[388,156]]]);
box(519, 162, 60, 14, 'Double Top?', [[[422,154],[521,164],[521,171]], [[574,165],[578,172],[590,154]]]);
box(521, 203, 44, 13, 'Breakout', [[[563,205],[563,212],[585,200]]]);
box(102, 207, 54, 13, 'Swing Line', [[[84,205],[104,210],[104,216]]]);
box(527, 496, 55, 12, 'Resistance', [[[575,506],[581,502],[594,516]]]);
box(531, 609, 53, 12, 'Resistance', [[[577,619],[583,614],[594,641]]]);
box(511, 739, 69, 15, 'Fib Resistance', [[[573,752],[579,746],[594,762]]]);
box(445, 1266, 133, 30, 'A turn higher could signal an\nimpulsive move up coming.', [[[566,1268],[575,1268],[590,1241]]]);

const chart = echarts.init(document.getElementById('chart'), null, {renderer:'canvas'});
chart.setOption({animation:false, backgroundColor:'#fff', grid:grids, xAxis:xAxes, yAxis:yAxes, series:S, graphic:G});
</script></body></html>
